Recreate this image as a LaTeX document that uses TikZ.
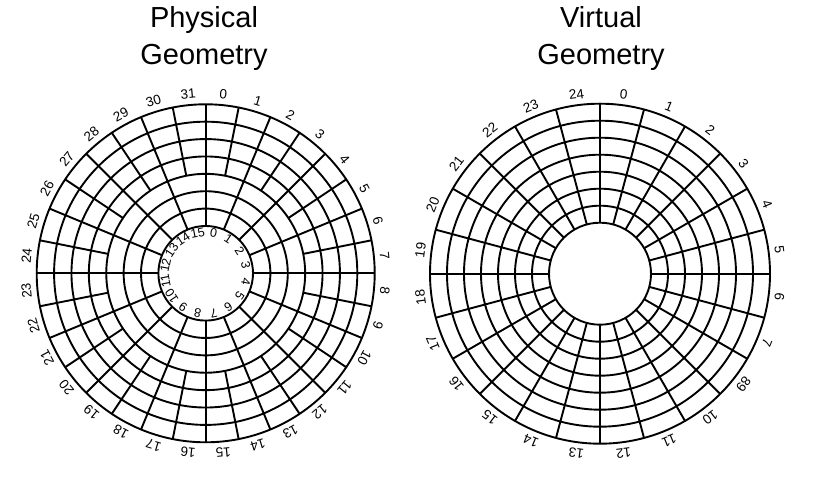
\documentclass[tikz,border=0pt]{standalone}
\usepackage{fontspec}
\setmainfont{Liberation Sans}
\usepackage{tikz}
\usetikzlibrary{calc}

\begin{document}
\begin{tikzpicture}[x=1pt,y=1pt,
	rim/.style={line width=1.9pt},
	outlbl/.style={font=\fontsize{13.5}{13.5}\selectfont,inner sep=0pt,anchor=south},
	inlbl/.style={font=\fontsize{12.5}{12.5}\selectfont,inner sep=0pt,anchor=north},
	title/.style={font=\fontsize{29}{29}\selectfont,inner sep=0pt,anchor=base}]
	\useasboundingbox (0,0) rectangle (824,492);
	\coordinate (p) at (205.7,218.7);
	\coordinate (v) at (600,218.3);
	\node[title] (p-t1) at (204,464.7) {Physical};
	\node[title] (p-t2) at (204,427) {Geometry};
	\node[title] (v-t1) at (601,464.7) {Virtual};
	\node[title] (v-t2) at (601,427) {Geometry};
	\foreach \r in {0,...,7}
		\draw[rim] (p) circle[radius=47.3+17.386*\r];
	\foreach \k in {0,...,31}{
		\pgfmathsetmacro\rin{ifthenelse(mod(\k,2)==0,47.3,99.46)}
		\draw[rim,shift={(p)}] (90-11.25*\k:\rin) -- (90-11.25*\k:169);
		\node[outlbl,rotate=-11.25*\k-5.625] (p-o\k) at ($(p)+(84.375-11.25*\k:175)$) {\k};
	}
	\foreach \k in {0,...,15}
		\node[inlbl,rotate=-22.5*\k-11.25] (p-i\k) at ($(p)+(78.75-22.5*\k:45.5)$) {\k};
	\foreach \r in {0,...,7}
		\draw[rim] (v) circle[radius=51+17*\r];
	\foreach \t [count=\k from 0] in {0,1,2,3,4,5,6,7,89,10,11,12,13,14,15,16,17,18,19,20,21,22,23,24}{
		\draw[rim,shift={(v)}] (90-15*\k:51) -- (90-15*\k:170);
		\node[outlbl,rotate=-15*\k-7.5] (v-o\k) at ($(v)+(82.5-15*\k:176)$) {\t};
	}
\end{tikzpicture}
\end{document}
